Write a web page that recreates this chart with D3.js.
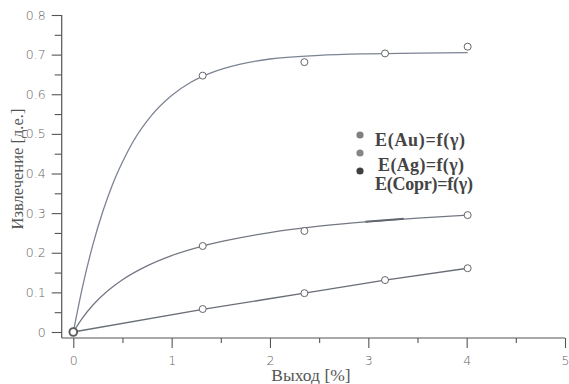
<!DOCTYPE html>
<html><head><meta charset="utf-8">
<script src="https://cdn.jsdelivr.net/npm/d3@7"></script>
<style>body{margin:0;background:#fff}svg{display:block}</style>
</head><body>
<svg id="c" width="569" height="384"></svg>
<script>
// measured points
const auX = [0, 1.316, 2.35, 3.17, 4.01];
const auY = [0, 0.647, 0.681, 0.703, 0.720];
const agX = [0, 1.316, 2.35, 4.01];
const agY = [0, 0.217, 0.255, 0.295];
const cuX = [0, 1.316, 2.35, 3.17, 4.01];
const cuY = [0, 0.058, 0.098, 0.131, 0.161];
// fitted curves
const auFitX = [0, 0.1, 0.2, 0.3, 0.4, 0.5, 0.6, 0.8, 1.0, 1.2, 1.4, 1.7, 2.0, 2.5, 3.0, 3.5, 4.01];
const auFitY = [0, 0.121, 0.221, 0.304, 0.373, 0.429, 0.477, 0.548, 0.597, 0.631, 0.654, 0.676, 0.689, 0.698, 0.702, 0.704, 0.705];
const agFitX = [0, 0.1, 0.2, 0.35, 0.5, 0.75, 1.0, 1.316, 1.6, 2.0, 2.5, 3.0, 3.5, 4.01];
const agFitY = [0, 0.0375, 0.068, 0.104, 0.132, 0.167, 0.193, 0.217, 0.233, 0.251, 0.267, 0.2785, 0.2876, 0.295];
// darker overdrawn stretch on the Ag curve
const agMarkX = [2.97, 3.17, 3.36];
const agMarkY = [0.2785, 0.282, 0.2855];
const cuFitX = [0, 1.316, 2.35, 3.17, 4.01];
const cuFitY = [0, 0.057, 0.098, 0.131, 0.161];
const xTicks = [0, 1, 2, 3, 4, 5];
const xMinor = [0.5, 1.5, 2.5, 3.5, 4.5];
const yTicks = [0, 0.1, 0.2, 0.3, 0.4, 0.5, 0.6, 0.7, 0.8];
const yMinor = [0.05, 0.15, 0.25, 0.35, 0.45, 0.55, 0.65, 0.75];
const legendLabels = ["E(Au)=f(\u03b3)", "E(Ag)=f(\u03b3)", "E(Copr)=f(\u03b3)"];
const xTitle = "Выход [%]";
const yTitle = "Извлечение [д.е.]";

const svg = d3.select("#c");
const x = d3.scaleLinear().domain([0, 5]).range([73.3, 565]);
const y = d3.scaleLinear().domain([0, 0.8]).range([332, 15]);
const axisColor = "#555";
const xAxisY = 338, yAxisX = 61.7;

// axes lines
svg.append("line").attr("x1", yAxisX).attr("x2", yAxisX).attr("y1", y(0.8)).attr("y2", xAxisY)
  .attr("stroke", axisColor).attr("stroke-width", 1.2);
svg.append("line").attr("x1", yAxisX).attr("x2", x(5)).attr("y1", xAxisY).attr("y2", xAxisY)
  .attr("stroke", axisColor).attr("stroke-width", 1.2);

// x axis
const gx = svg.append("g").attr("transform", `translate(0,${xAxisY})`)
  .call(d3.axisBottom(x).tickValues(xTicks).tickFormat(d3.format("d")).tickSize(10).tickPadding(8));
gx.select(".domain").remove();
const gx2 = svg.append("g").attr("transform", `translate(0,${xAxisY})`)
  .call(d3.axisBottom(x).tickValues(xMinor).tickFormat("").tickSize(5));
gx2.select(".domain").remove();
// y axis
const gy = svg.append("g").attr("transform", `translate(${yAxisX},0)`)
  .call(d3.axisLeft(y).tickValues(yTicks).tickFormat(d => d === 0 ? "0" : d3.format(".1f")(d)).tickSize(10).tickPadding(6));
gy.select(".domain").remove();
const gy2 = svg.append("g").attr("transform", `translate(${yAxisX},0)`)
  .call(d3.axisLeft(y).tickValues(yMinor).tickFormat("").tickSize(7));
gy2.select(".domain").remove();
svg.selectAll(".tick line").attr("stroke", axisColor).attr("stroke-width", 1.1);
svg.selectAll(".tick text").attr("font-family", "DejaVu Sans").attr("font-size", 12.5)
  .attr("fill", "#666").attr("font-weight", 300);

// titles
svg.append("text").attr("x", 311).attr("y", 381).attr("text-anchor", "middle")
  .attr("font-family", "Liberation Serif").attr("font-size", 17.5).attr("fill", "#555").text(xTitle);
svg.append("text").attr("transform", "translate(23,169) rotate(-90)").attr("text-anchor", "middle")
  .attr("font-family", "Liberation Serif").attr("font-size", 16.5).attr("fill", "#555").text(yTitle);

// curves
const line = d3.line().x(d => x(d[0])).y(d => y(d[1])).curve(d3.curveMonotoneX);
function curve(xs, ys, color, w) {
  svg.append("path").datum(xs.map((v, i) => [v, ys[i]])).attr("d", line)
    .attr("fill", "none").attr("stroke", color).attr("stroke-width", w);
}
curve(auFitX, auFitY, "#7c8392", 1.3);
curve(agFitX, agFitY, "#747884", 1.3);
curve(agMarkX, agMarkY, "#62666f", 2);
curve(cuFitX, cuFitY, "#6a6e78", 1.4);

// points
function pts(xs, ys) {
  svg.append("g").selectAll("circle").data(xs.map((v, i) => [v, ys[i]])).join("circle")
    .attr("cx", d => x(d[0])).attr("cy", d => y(d[1])).attr("r", 3.5)
    .attr("fill", "#fff").attr("stroke", "#666").attr("stroke-width", 1);
}
pts(auX, auY); pts(agX, agY); pts(cuX, cuY);
svg.append("circle").attr("cx", x(0)).attr("cy", y(0)).attr("r", 4.2).attr("fill", "none")
  .attr("stroke", "#555").attr("stroke-width", 1.2);

// legend
const legDotY = [135, 153, 171];
const legTextY = [146, 171, 190];
const legTextX = [375, 378, 375];
const legTextW = [90, 86, 98];
const legDotColor = ["#808080", "#858585", "#404040"];
legendLabels.forEach((t, i) => {
  svg.append("circle").attr("cx", 360).attr("cy", legDotY[i]).attr("r", 3.6).attr("fill", legDotColor[i]);
  svg.append("text").attr("x", legTextX[i]).attr("y", legTextY[i])
    .attr("font-family", "Liberation Serif").attr("font-weight", "bold").attr("font-size", 18)
    .attr("textLength", legTextW[i]).attr("lengthAdjust", "spacing")
    .attr("fill", "#444").text(t);
});
</script>
</body></html>
